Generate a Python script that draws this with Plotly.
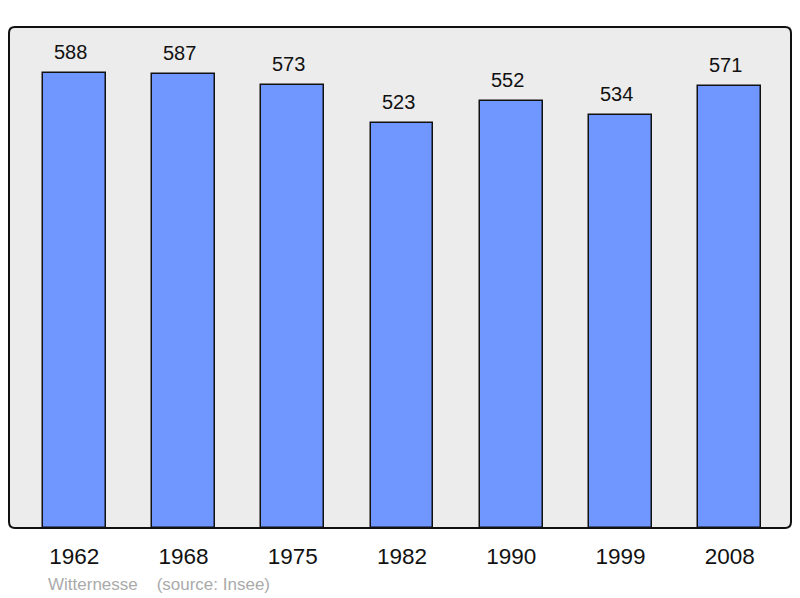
import plotly.graph_objects as go

years = ["1962", "1968", "1975", "1982", "1990", "1999", "2008"]
population = [588, 587, 573, 523, 552, 534, 571]

W, H = 800, 598
ml, mr, mt, mb = 9, 9, 27, 70

fig = go.Figure()
fig.add_trace(go.Bar(
    x=years, y=population, width=0.575,
    marker=dict(color="#7096ff", line=dict(color="#111111", width=1.5)),
    hoverinfo="x+y",
))

for i, v in enumerate(population):
    fig.add_annotation(x=i, y=v, text=str(v), showarrow=False,
                       yanchor="middle", yshift=21, xshift=-4,
                       font=dict(family="Liberation Sans, Arial", size=20, color="#111111"))

# rounded frame around plot area
pw, ph = W - ml - mr, H - mt - mb
r = 6
rx, ry = r / pw, r / ph
path = (f"M {rx},0 L {1-rx},0 Q 1,0 1,{ry} L 1,{1-ry} Q 1,1 {1-rx},1 "
        f"L {rx},1 Q 0,1 0,{1-ry} L 0,{ry} Q 0,0 {rx},0 Z")
fig.add_shape(type="path", path=path, xref="x domain", yref="y domain",
              line=dict(color="#111111", width=2), fillcolor="rgba(0,0,0,0)", layer="above")

fig.add_annotation(text="Witternesse &nbsp;&nbsp; (source: Insee)", xref="paper", yref="paper",
                   x=(46 - ml) / pw, y=-(584 - (H - mb)) / ph, xanchor="left", yanchor="middle",
                   showarrow=False,
                   font=dict(family="Liberation Sans, Arial", size=17, color="#aaaaaa"))

fig.update_layout(
    width=W, height=H,
    margin=dict(l=ml, r=mr, t=mt, b=mb),
    paper_bgcolor="white", plot_bgcolor="#ececec",
    showlegend=False,
    xaxis=dict(type="category", range=[-0.598, 6.56], showgrid=False, zeroline=False,
               showline=False, ticks="outside", ticklen=8, tickcolor="rgba(0,0,0,0)",
               tickfont=dict(family="Liberation Sans, Arial", size=22.5, color="#111111"),
               fixedrange=True),
    yaxis=dict(range=[0, 647.5], showgrid=False, zeroline=False, showline=False,
               showticklabels=False, fixedrange=True),
    bargap=0,
)

fig.write_html("out.html", config={"displayModeBar": False},
               post_script="document.body.style.margin='0';document.body.style.overflow='hidden';")
